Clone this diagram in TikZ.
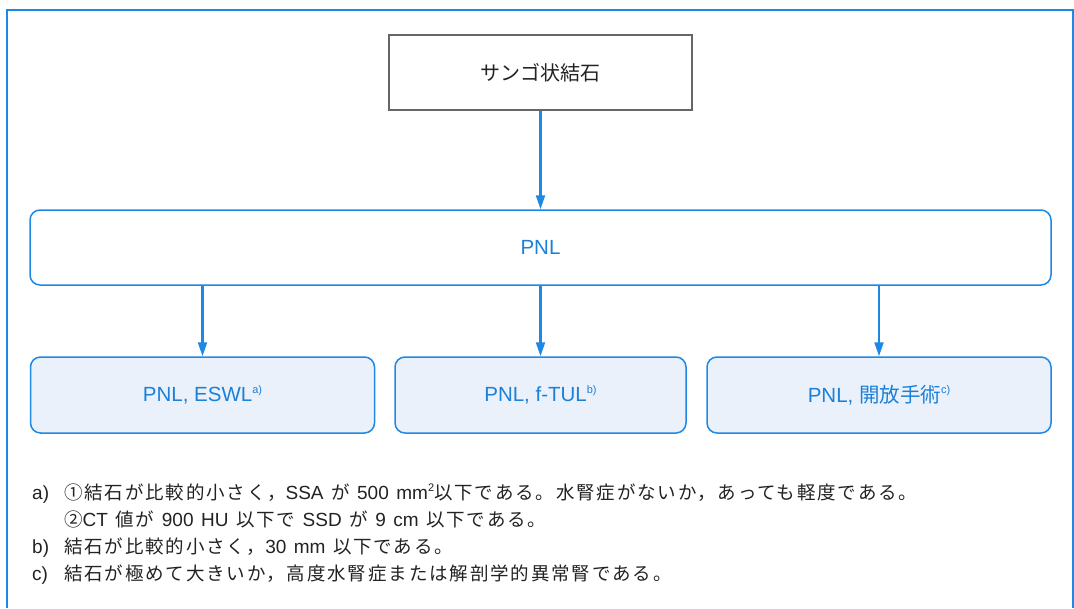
\documentclass[tikz,border=0pt]{standalone}
\usepackage{fontspec}
\setmainfont{Liberation Sans}
\newfontfamily\jp{Noto Sans CJK JP}
\newfontfamily\jpls[LetterSpace=10]{Noto Sans CJK JP}
\usetikzlibrary{arrows.meta}
\definecolor{fblue}{HTML}{1E88E5}
\definecolor{tblue}{HTML}{1A80D9}
\definecolor{boxfill}{HTML}{EBF1FB}
\definecolor{tgray}{HTML}{222222}
\newcommand\mysup[1]{\raisebox{0.42em}{\fontsize{11pt}{11pt}\selectfont #1}}
\newcommand\gapsp{\hspace{7.5pt}}
\tikzset{
  topbox/.style={draw=black!60, line width=1.5pt, fill=white, inner sep=0pt,
    minimum width=303pt, minimum height=75pt, font=\jp\fontsize{20pt}{24pt}\selectfont, text=tgray},
  pnlbox/.style={draw=fblue, line width=1.5pt, fill=white, rounded corners=10pt, inner sep=0pt,
    minimum height=75pt, font=\fontsize{20.5pt}{24pt}\selectfont, text=tblue},
  subbox/.style={draw=fblue, line width=1.5pt, fill=boxfill, rounded corners=10pt, inner sep=0pt,
    minimum height=76pt, font=\fontsize{20.5pt}{24pt}\selectfont, text=tblue},
  conn/.style={draw=fblue, line width=2.2pt, -{Triangle[length=14pt,width=9pt]}},
  note/.style={anchor=base west, inner sep=0pt, text=tgray, font=\fontsize{19pt}{22pt}\selectfont},
}
\newcommand\J[1]{{\fontsize{18.5pt}{22pt}\jpls #1}}
\begin{document}
\begin{tikzpicture}[x=1pt,y=-1pt]
\useasboundingbox (0,0) rectangle (1074,608);
\draw[fblue, line width=2.5pt] (7,608) -- (7,10) -- (1073,10) -- (1073,608);

\node[topbox] (top) at (540.5,72.5) {サンゴ状結石};
\node[pnlbox, minimum width=1021pt] (pnl) at (540.5,247.5) {PNL};
\node[subbox, minimum width=344pt] (b1) at (202.5,395) {PNL, ESWL\mysup{a)}};
\node[subbox, minimum width=291pt] (b2) at (540.5,395) {PNL, f-TUL\mysup{b)}};
\node[subbox, minimum width=344pt] (b3) at (879,395) {PNL, {\jp 開放手術}\mysup{c)}};

\draw[conn] (top.south) -- (pnl.north);
\draw[conn] (pnl.south -| b1.north) -- (b1.north);
\draw[conn] (pnl.south -| b2.north) -- (b2.north);
\draw[conn] (pnl.south -| b3.north) -- (b3.north);

\node[note] (la) at (32,499) {a)};
\node[note] (ta) at (64,499) {\J{①結石が比較的小さく，}SSA\gapsp\J{が}\gapsp 500\gapsp mm\mysup{2}\J{以下である。水腎症がないか，あっても軽度である。}};
\node[note] (ta2) at (64,526) {\J{②}CT\gapsp\J{値が}\gapsp 900\gapsp HU\gapsp\J{以下で}\gapsp SSD\gapsp\J{が}\gapsp 9\gapsp cm\gapsp\J{以下である。}};
\node[note] (lb) at (32,553) {b)};
\node[note] (tb) at (64,553) {\J{結石が比較的小さく，}30\gapsp mm\gapsp\J{以下である。}};
\node[note] (lc) at (32,580) {c)};
\node[note] (tc) at (64,580) {\J{結石が極めて大きいか，高度水腎症または解剖学的異常腎である。}};
\end{tikzpicture}
\end{document}
